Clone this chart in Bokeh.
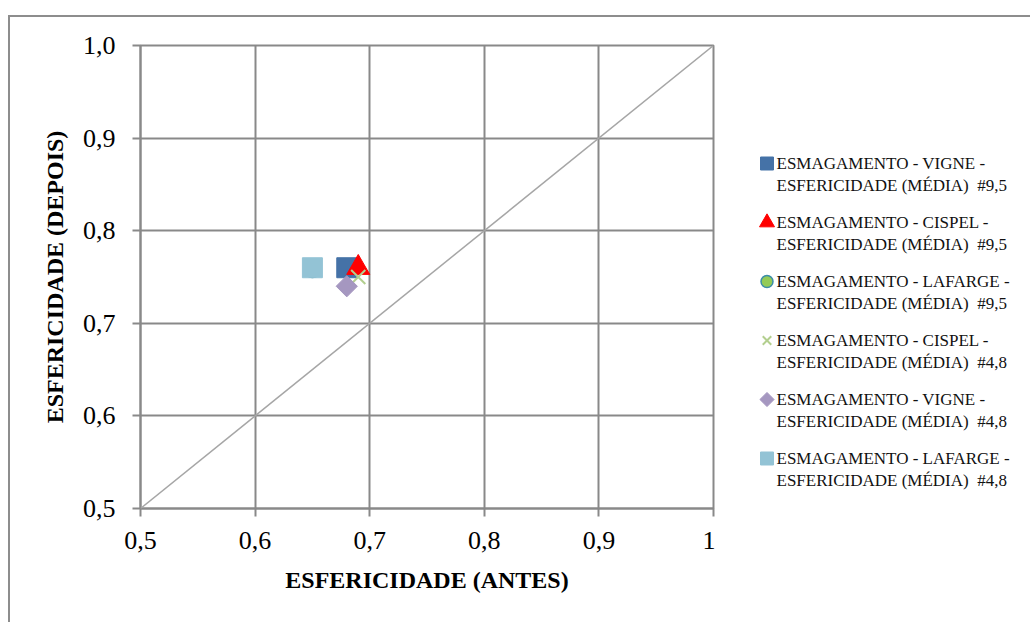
import math

from bokeh.plotting import figure
from bokeh.layouts import row
from bokeh.models import FixedTicker, Slope, CustomJSTickFormatter, ColumnDataSource
from bokeh.core.properties import value
from bokeh.embed import file_html
from bokeh.resources import INLINE

# Sphericity before (antes) and after (depois) crushing, mean values
series_names = [
    "ESMAGAMENTO - VIGNE -\nESFERICIDADE (MÉDIA)  #9,5",
    "ESMAGAMENTO - CISPEL -\nESFERICIDADE (MÉDIA)  #9,5",
    "ESMAGAMENTO - LAFARGE -\nESFERICIDADE (MÉDIA)  #9,5",
    "ESMAGAMENTO - CISPEL -\nESFERICIDADE (MÉDIA)  #4,8",
    "ESMAGAMENTO - VIGNE -\nESFERICIDADE (MÉDIA)  #4,8",
    "ESMAGAMENTO - LAFARGE -\nESFERICIDADE (MÉDIA)  #4,8",
]
antes = [0.68, 0.69, 0.65, 0.69, 0.68, 0.65]
depois = [0.76, 0.76, 0.758, 0.75, 0.74, 0.76]

x_ticks = [0.5, 0.6, 0.7, 0.8, 0.9, 1.0]
x_tick_labels = ["0,5", "0,6", "0,7", "0,8", "0,9", "1"]
y_ticks = [0.5, 0.6, 0.7, 0.8, 0.9, 1.0]
y_tick_labels = ["0,5", "0,6", "0,7", "0,8", "0,9", "1,0"]

x_title = "ESFERICIDADE (ANTES)"
y_title = "ESFERICIDADE (DEPOIS)"

# marker styles, one per series (plot size, legend size)
styles = [
    dict(marker="square", size=20, key_size=13, angle=0, fill_color="#4572A7", line_color="#4572A7", line_width=1),
    dict(marker="triangle", size=23, key_size=15, angle=0, fill_color="#FF0000", line_color="#FF0000", line_width=1),
    dict(marker="circle", size=16, key_size=12, angle=0, fill_color="#93CB57", line_color="#3C8DA8", line_width=1.5),
    dict(marker="x", size=20, key_size=12, angle=0, fill_color=None, line_color="#B3CF8F", line_width=2),
    dict(marker="square", size=15, key_size=10, angle=math.pi / 4, fill_color="#A597C0", line_color="#A597C0", line_width=1),
    dict(marker="square", size=20, key_size=13, angle=0, fill_color="#93C3D5", line_color="#93C3D5", line_width=1),
]

GRID = "#898989"
FONT = "Liberation Serif"
BORDER_TOP, BORDER_BOTTOM = 28, 114

# ---- main scatter plot ----
p = figure(
    width=705, height=605,
    x_range=(0.5, 1.0), y_range=(0.5, 1.0),
    output_backend="svg", toolbar_location=None,
    min_border_left=130, min_border_right=2,
    min_border_top=BORDER_TOP, min_border_bottom=BORDER_BOTTOM,
    background_fill_color="white", border_fill_color="white",
)

p.outline_line_color = GRID
p.outline_line_width = 2

for grid in (p.xgrid, p.ygrid):
    grid.grid_line_color = GRID
    grid.grid_line_width = 2

def tick_formatter(values, labels):
    return CustomJSTickFormatter(
        args=dict(tick_values=values, tick_texts=labels),
        code="""
        const i = tick_values.findIndex(t => Math.abs(t - tick) < 1e-9);
        return i >= 0 ? tick_texts[i] : "";
        """,
    )

p.xaxis.ticker = FixedTicker(ticks=x_ticks)
p.yaxis.ticker = FixedTicker(ticks=y_ticks)
p.xaxis.formatter = tick_formatter(x_ticks, x_tick_labels)
p.yaxis.formatter = tick_formatter(y_ticks, y_tick_labels)
p.xaxis.axis_label = x_title
p.yaxis.axis_label = y_title

for ax in (p.xaxis[0], p.yaxis[0]):
    ax.axis_line_color = GRID
    ax.axis_line_width = 2
    ax.major_tick_line_color = GRID
    ax.major_tick_line_width = 2
    ax.major_tick_out = 8
    ax.major_tick_in = 0
    ax.minor_tick_line_color = None
    ax.major_label_text_font = FONT
    ax.major_label_text_font_size = "26px"
    ax.major_label_text_color = "black"
    ax.axis_label_text_font = FONT
    ax.axis_label_text_font_size = "24px"
    ax.axis_label_text_font_style = "bold"
    ax.axis_label_text_color = "black"

p.xaxis.major_label_standoff = 15
p.yaxis.major_label_standoff = 17
p.xaxis.axis_label_standoff = 15
p.yaxis.axis_label_standoff = 12

# 1:1 reference line
p.add_layout(Slope(gradient=1, y_intercept=0, line_color="#A6A6A6", line_width=1.5))

for i, st in enumerate(styles):
    p.scatter(
        x=[antes[i]], y=[depois[i]],
        marker=st["marker"], size=st["size"], angle=st["angle"],
        fill_color=st["fill_color"], line_color=st["line_color"], line_width=st["line_width"],
    )

# ---- legend panel: page-pixel coordinates, y pointing down ----
LEG_W, LEG_H = 315, 605
LEG_X0 = 715                      # page x of the panel's left edge
FRAME_TOP, FRAME_BOTTOM = 45, 508  # page y of the shared frame edges
KEY_X, TEXT_X = 766.5, 776
FIRST_Y, ENTRY_STEP, LINE_STEP = 163, 59, 22

leg = figure(
    width=LEG_W, height=LEG_H,
    x_range=(LEG_X0, LEG_X0 + LEG_W), y_range=(FRAME_BOTTOM, FRAME_TOP),
    x_axis_type=None, y_axis_type=None,
    output_backend="svg", toolbar_location=None,
    min_border_left=0, min_border_right=0,
    min_border_top=BORDER_TOP, min_border_bottom=BORDER_BOTTOM,
    outline_line_color=None,
    background_fill_color="white", border_fill_color="white",
)
leg.xgrid.visible = False
leg.ygrid.visible = False

line_x, line_y, line_text = [], [], []
for k, (name, st) in enumerate(zip(series_names, styles)):
    y0 = FIRST_Y + k * ENTRY_STEP
    leg.scatter(
        x=[KEY_X], y=[y0],
        marker=st["marker"], size=st["key_size"], angle=st["angle"],
        fill_color=st["fill_color"], line_color=st["line_color"], line_width=st["line_width"],
    )
    for j, part in enumerate(name.split("\n")):
        line_x.append(TEXT_X)
        line_y.append(y0 + j * LINE_STEP)
        # keep the double space before the sieve size visible in SVG text
        line_text.append(part.replace("  ", "\u00a0 "))

leg.text(
    x="x", y="y", text="text",
    source=ColumnDataSource(dict(x=line_x, y=line_y, text=line_text)),
    text_font=value(FONT), text_font_size="17px",
    text_baseline="middle", text_align="left", text_color="#111111",
)

# chart area border (top and left edges), clipped by the page
page = row(
    p, leg,
    styles={
        "margin-left": "8px",
        "margin-top": "15px",
        "border-top": "2px solid #8d8d8d",
        "border-left": "2px solid #8d8d8d",
        "background-color": "white",
    },
)

open("out.html", "w").write(file_html(page, INLINE))
